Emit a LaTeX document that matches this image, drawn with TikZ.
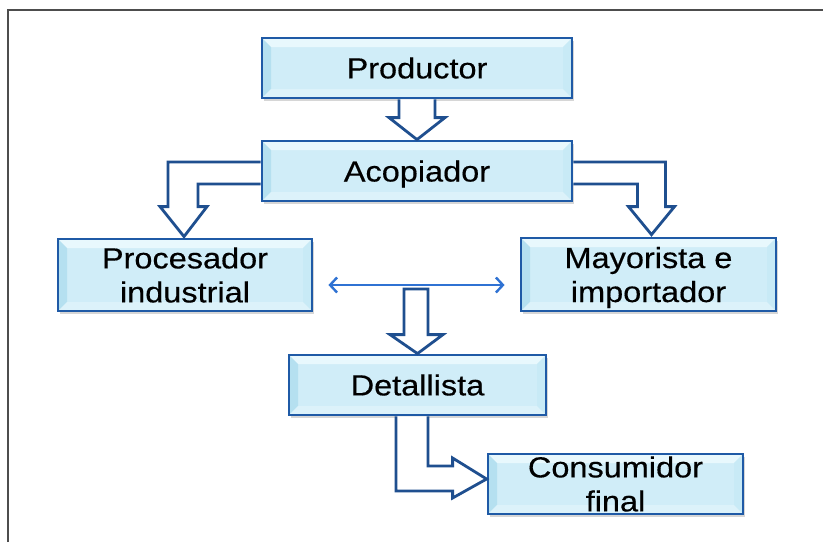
\documentclass[tikz,border=0pt]{standalone}
\usepackage{fontspec}
\newfontfamily\boxfont[FakeStretch=1.12,FakeBold=0.4]{Liberation Sans}
\usetikzlibrary{calc,shadows,arrows.meta}
\definecolor{boxborder}{HTML}{1F5AA6}
\definecolor{boxfill}{HTML}{D0EDF8}
\definecolor{bevelT}{HTML}{E8F8FD}
\definecolor{bevelL}{HTML}{B5E0F0}
\definecolor{bevelR}{HTML}{C8EAF6}
\definecolor{bevelB}{HTML}{DCF2FA}
\definecolor{arrowborder}{HTML}{1F4F8F}
\definecolor{dblarrow}{HTML}{2F72D3}
\definecolor{framegray}{HTML}{4D4D4D}
\newcommand{\lowertext}[1]{\raisebox{-3pt}[\height][\depth]{#1}}
\tikzset{
  stagebox/.style={draw=boxborder, line width=2.8pt, fill=boxfill,
    inner sep=0pt, align=center, text=black,
    font=\boxfont\fontsize{29pt}{34pt}\selectfont,
    drop shadow={shadow xshift=2pt, shadow yshift=-3pt, opacity=0.35, fill=black!45},
    path picture={
      \fill[bevelT] (path picture bounding box.north west) -- (path picture bounding box.north east)
        -- ([xshift=-9pt,yshift=-9pt]path picture bounding box.north east)
        -- ([xshift=9pt,yshift=-9pt]path picture bounding box.north west) -- cycle;
      \fill[bevelL] (path picture bounding box.north west) -- (path picture bounding box.south west)
        -- ([xshift=9pt,yshift=9pt]path picture bounding box.south west)
        -- ([xshift=9pt,yshift=-9pt]path picture bounding box.north west) -- cycle;
      \fill[bevelR] (path picture bounding box.north east) -- (path picture bounding box.south east)
        -- ([xshift=-9pt,yshift=9pt]path picture bounding box.south east)
        -- ([xshift=-9pt,yshift=-9pt]path picture bounding box.north east) -- cycle;
      \fill[bevelB] (path picture bounding box.south west) -- (path picture bounding box.south east)
        -- ([xshift=-9pt,yshift=9pt]path picture bounding box.south east)
        -- ([xshift=9pt,yshift=9pt]path picture bounding box.south west) -- cycle;
    }},
  blockarrow/.style={draw=arrowborder, line width=2.8pt, fill=white, line join=miter},
  dblconn/.style={draw=dblarrow, line width=2.4pt,
    {Straight Barb[length=7pt,width=15pt]}-{Straight Barb[length=7pt,width=15pt]}},
  outerframe/.style={draw=framegray, line width=2.2pt}
}
\begin{document}
\begin{tikzpicture}[x=1pt,y=1pt]
\useasboundingbox (0,0) rectangle (823,-542);
\fill[white] (0,0) rectangle (823,-542);
\draw[outerframe] (8,-542) -- (8,-10) -- (823,-10);

\node[stagebox, minimum width=310pt, minimum height=60pt] (prod) at (417,-68) {Productor};
\node[stagebox, minimum width=310pt, minimum height=60pt] (acop) at (417,-171) {\lowertext{Acopiador}};
\node[stagebox, minimum width=254pt, minimum height=72pt] (proc) at (185,-275) {Procesador\\industrial};
\node[stagebox, minimum width=255pt, minimum height=73pt] (mayo) at (648.5,-274.5) {\lowertext{Mayorista e}\\\lowertext{importador}};
\node[stagebox, minimum width=257pt, minimum height=60pt] (det) at (417.5,-385) {Detallista};
\node[stagebox, minimum width=255pt, minimum height=60pt] (cons) at (615.5,-484) {Consumidor\\final};

% Productor -> Acopiador
\path[blockarrow] let \p1=(prod.south), \p2=(acop.north) in
  (\x1-18pt,\y1) -- (\x1-18pt,\y2+22pt) -- (\x1-28pt,\y2+22pt) -- (\x2,\y2)
  -- (\x1+28pt,\y2+22pt) -- (\x1+18pt,\y2+22pt) -- (\x1+18pt,\y1);

% Acopiador -> Procesador
\path[blockarrow] let \p1=(acop.west), \p2=(proc.north) in
  (\x1,\y1+9pt) -- (\x2-17pt,\y1+9pt) -- (\x2-17pt,\y2+31pt) -- (\x2-25pt,\y2+31pt)
  -- (\x2-1pt,\y2+1pt) -- (\x2+22pt,\y2+31pt) -- (\x2+13pt,\y2+31pt)
  -- (\x2+13pt,\y1-13pt) -- (\x1,\y1-13pt);

% Acopiador -> Mayorista
\path[blockarrow] let \p1=(acop.east), \p2=(mayo.north) in
  (\x1,\y1+9pt) -- (\x2+17pt,\y1+9pt) -- (\x2+17pt,\y2+30pt) -- (\x2+26pt,\y2+30pt)
  -- (\x2+3pt,\y2+2pt) -- (\x2-20pt,\y2+30pt) -- (\x2-11pt,\y2+30pt)
  -- (\x2-11pt,\y1-13pt) -- (\x1,\y1-13pt);

% Procesador <-> Mayorista
\coordinate (midline) at (417,-285);
\draw[dblconn, shorten <=15pt, shorten >=15pt] (proc.east |- midline) -- (mayo.west |- midline);

% free arrow down to Detallista
\coordinate (dtop) at (416,-289);
\path[blockarrow] let \p1=(dtop), \p2=(det.north) in
  (\x1-12pt,\y1) -- (\x1-12pt,\y2+19pt) -- (\x1-26pt,\y2+19pt) -- (\x2,\y2)
  -- (\x1+27pt,\y2+19pt) -- (\x1+12pt,\y2+19pt) -- (\x1+12pt,\y1) -- cycle;

% Detallista -> Consumidor
\path[blockarrow] let \p1=(det.south), \p2=(cons.west) in
  (\x1-21.5pt,\y1) -- (\x1-21.5pt,\y2-7pt) -- (\x2-34pt,\y2-7pt) -- (\x2-34pt,\y2-14pt)
  -- (\x2,\y2+5pt) -- (\x2-34pt,\y2+26pt) -- (\x2-34pt,\y2+18pt)
  -- (\x1+10.5pt,\y2+18pt) -- (\x1+10.5pt,\y1);
\end{tikzpicture}
\end{document}
